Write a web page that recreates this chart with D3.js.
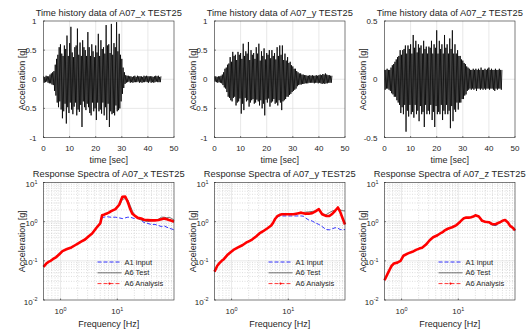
<!DOCTYPE html>
<html>
<head>
<meta charset="utf-8">
<script src="https://cdn.jsdelivr.net/npm/d3@7"></script>
<style>
  body { margin: 0; background: #fff; }
  text { font-family: "Liberation Sans", Arial, sans-serif; fill: #262626; }
</style>
</head>
<body>
<div id="container"></div>
<script>

// ---- time histories: peak sequence, one value per 0.25 s (0..45 s)
const timeStep = 0.25;
const accX = [0.05,-0.06,0.04,-0.05,0.06,-0.04,0.05,-0.06,0.05,
  -0.07,0.08,-0.07,0.10,-0.09,0.12,-0.10,0.14,
  -0.20,0.25,-0.28,0.35, -0.40,0.42,-0.48,0.55, -0.38,0.60,-0.52,0.44, -0.67,0.40,-0.55,0.58,
  -0.42,0.52,-0.76,0.75, -0.48,0.40,-0.58,0.62, -0.40,0.90,-0.52,0.46, -0.60,0.38,-0.47,0.55,
  -0.40,0.58,-0.62,0.87, -0.52,0.42,-0.56,0.63, -0.44,0.40,-0.82,0.67, -0.38,0.55,-0.48,0.50,
  -0.53,0.40,-0.42,0.81, -0.48,0.55,-0.58,0.40, -0.62,0.60,-0.40,0.48, -0.55,0.38,-0.50,0.58,
  -0.70,0.46,-0.40,0.78, -0.55,0.40,-0.52,0.67, -0.59,0.52,-0.40,0.55, -0.62,0.44,-0.48,0.93,
  -0.70,0.58,-0.42,0.60, -0.82,0.45,-0.55,0.95, -0.60,0.42,-0.58,0.62, -0.62,0.55,-0.45,0.98,
  -0.55,0.48,-0.53,0.78, -0.50,0.42,-0.38,0.35, -0.25,0.20,-0.15,0.12, -0.08,0.07,-0.06,0.06,
  -0.05,0.06,-0.04,0.05,-0.06,0.05,-0.05,0.04,-0.06,0.05,
  -0.05,0.06,-0.05,0.04,-0.05,0.06,-0.04,0.05,-0.06,0.05,
  -0.05,0.05,-0.06,0.04,-0.05,0.06,-0.05,0.05,-0.04,0.06,
  -0.05,0.05,-0.06,0.05,-0.04,0.05,-0.06,0.05,-0.05,0.04,
  -0.06,0.05,-0.05,0.06,-0.04,0.05,-0.05,0.06,-0.05,0.04,
  -0.05,0.05];
const accY = [0.05,-0.04,0.05,-0.05,0.04,-0.06,0.05,-0.05,0.05,
  -0.06,0.06,-0.07,0.08,-0.10,0.12,-0.14,0.18,
  -0.16,0.20,-0.22,0.25, -0.30,0.27,-0.32,0.38, -0.36,0.30,-0.38,0.47, -0.32,0.40,-0.30,0.42,
  -0.45,0.33,-0.40,0.47, -0.38,0.42,-0.33,0.45, -0.59,0.35,-0.42,0.61, -0.53,0.40,-0.32,0.48,
  -0.38,0.44,-0.36,0.64, -0.47,0.33,-0.40,0.50, -0.36,0.42,-0.34,0.45, -0.42,0.35,-0.40,0.55,
  -0.35,0.44,-0.38,0.61, -0.45,0.32,-0.36,0.48, -0.50,0.40,-0.42,0.53, -0.62,0.34,-0.35,0.45,
  -0.40,0.42,-0.33,0.50, -0.47,0.36,-0.40,0.50, -0.38,0.40,-0.34,0.45, -0.42,0.34,-0.40,0.55,
  -0.45,0.40,-0.36,0.58, -0.40,0.42,-0.53,0.58, -0.38,0.33,-0.36,0.44, -0.34,0.32,-0.30,0.38,
  -0.30,0.28,-0.27,0.30, -0.25,0.24,-0.22,0.22, -0.20,0.18,-0.18,0.18, -0.16,0.14,-0.12,0.12,
  -0.10,0.10,-0.09,0.10,-0.09,0.08,-0.08,0.08,-0.08,0.07,
  -0.07,0.07,-0.07,0.06,-0.07,0.06,-0.06,0.07,-0.06,0.06,
  -0.06,0.07,-0.06,0.06,-0.07,0.06,-0.06,0.07,-0.06,0.06,
  -0.07,0.07,-0.06,0.08,-0.07,0.07,-0.08,0.09,-0.07,0.08,
  -0.08,0.10,-0.07,0.08,-0.07,0.07,-0.06,0.07,-0.06,0.06,
  -0.06,0.06];
const accZ = [0.08,-0.09,0.08,-0.08,0.09,-0.08,0.08,-0.09,0.08,
  -0.10,0.10,-0.12,0.12,-0.13,0.13,-0.15,0.15,
  -0.15,0.17,-0.18,0.19, -0.20,0.20,-0.22,0.25, -0.29,0.21,-0.24,0.25, -0.30,0.26,-0.22,0.29,
  -0.45,0.22,-0.27,0.29, -0.32,0.26,-0.22,0.30, -0.30,0.22,-0.28,0.38, -0.33,0.27,-0.22,0.33,
  -0.30,0.23,-0.27,0.30, -0.36,0.27,-0.23,0.29, -0.30,0.22,-0.28,0.33, -0.41,0.26,-0.22,0.28,
  -0.30,0.22,-0.27,0.28, -0.30,0.27,-0.22,0.33, -0.35,0.22,-0.28,0.30, -0.41,0.27,-0.23,0.42,
  -0.30,0.22,-0.28,0.33, -0.30,0.26,-0.22,0.30, -0.35,0.22,-0.27,0.38, -0.30,0.27,-0.22,0.30,
  -0.30,0.22,-0.27,0.35, -0.42,0.26,-0.23,0.42, -0.36,0.22,-0.26,0.30, -0.28,0.22,-0.20,0.25,
  -0.26,0.20,-0.20,0.20, -0.20,0.17,-0.17,0.16, -0.17,0.14,-0.14,0.13, -0.13,0.11,-0.10,0.10,
  -0.09,0.09,-0.08,0.08,-0.09,0.08,-0.08,0.09,-0.09,0.08,
  -0.08,0.09,-0.10,0.08,-0.08,0.09,-0.08,0.08,-0.09,0.10,
  -0.08,0.08,-0.09,0.08,-0.08,0.09,-0.09,0.08,-0.08,0.09,
  -0.08,0.10,-0.09,0.08,-0.08,0.09,-0.08,0.08,-0.09,0.08,
  -0.10,0.09,-0.08,0.08,-0.09,0.08,-0.08,0.09,-0.08,0.08,
  -0.09,0.08];

// ---- response spectra [g] at these frequencies [Hz]
const freqHz = [0.5,0.56,0.61,0.67,0.73,0.84,0.96,1.08,1.3,1.55,1.8,2.05,2.3,2.7,3.1,3.6,4.3,5,5.4,5.8,
  6.4,7.1,7.8,9.3,10.8,12.3,13.8,15.3,16.9,18.4,20,23,26.4,29.6,34.6,39.6,46,53,60,67,75,82,91,100];

const inputX = [0.07,0.085,0.094,0.10,0.11,0.125,0.15,0.177,0.20,0.22,0.25,0.28,0.31,0.35,0.42,0.50,0.68,0.85,1.25,1.30,
  1.35,1.32,1.30,1.30,1.25,1.20,1.25,1.30,1.30,1.25,1.20,1.25,1.10,0.95,0.90,0.85,0.85,0.80,0.75,0.78,0.72,0.68,0.65,0.62];
const testX = [0.07,0.085,0.094,0.10,0.11,0.125,0.15,0.177,0.20,0.22,0.25,0.28,0.31,0.35,0.42,0.50,0.70,0.90,1.45,1.50,
  1.60,1.70,1.85,2.10,2.50,3.70,3.90,3.60,2.60,1.90,1.50,1.20,1.10,1.05,1.00,1.05,1.10,1.15,1.30,1.30,1.25,1.30,1.20,1.10];
const anaX = [0.07,0.085,0.094,0.10,0.11,0.125,0.15,0.177,0.20,0.22,0.25,0.28,0.31,0.35,0.42,0.50,0.70,0.90,1.45,1.50,
  1.60,1.70,1.85,2.10,2.70,4.30,4.40,3.20,2.10,1.60,1.45,1.25,1.20,1.12,1.10,1.08,1.08,1.10,1.15,1.20,1.15,1.10,1.05,1.00];

const inputY = [0.053,0.075,0.087,0.10,0.11,0.14,0.165,0.19,0.22,0.25,0.29,0.32,0.35,0.42,0.50,0.57,0.68,0.80,0.92,1.10,
  1.30,1.40,1.40,1.40,1.40,1.40,1.40,1.40,1.40,1.38,1.25,1.10,1.04,0.94,0.85,0.75,0.63,0.62,0.66,0.70,0.68,0.63,0.62,0.63];
const testY = [0.053,0.075,0.087,0.10,0.11,0.14,0.165,0.19,0.22,0.25,0.29,0.32,0.35,0.42,0.50,0.57,0.68,0.80,0.92,1.15,
  1.38,1.50,1.55,1.55,1.55,1.55,1.60,1.65,1.70,1.72,1.75,1.78,1.82,1.88,2.00,1.60,1.50,1.70,1.88,1.95,2.10,2.00,1.90,1.88];
const anaY = [0.053,0.075,0.087,0.10,0.11,0.14,0.165,0.19,0.22,0.25,0.29,0.32,0.35,0.42,0.50,0.57,0.68,0.80,0.94,1.15,
  1.38,1.50,1.55,1.55,1.55,1.55,1.60,1.65,1.70,1.65,1.60,1.60,1.65,1.80,2.08,1.55,1.40,1.40,1.60,1.90,2.30,1.80,1.20,0.85];

const inputZ = [0.032,0.045,0.058,0.075,0.085,0.09,0.10,0.135,0.155,0.17,0.19,0.205,0.215,0.26,0.33,0.40,0.45,0.52,0.55,0.60,
  0.65,0.69,0.72,0.82,1.00,1.20,1.27,1.27,1.30,1.35,1.45,1.35,1.05,1.00,0.95,0.82,0.80,0.95,1.05,1.10,0.95,0.78,0.70,0.60];
const testZ = inputZ.slice();
const anaZ = [0.032,0.045,0.058,0.075,0.085,0.09,0.10,0.135,0.155,0.17,0.19,0.205,0.215,0.26,0.33,0.40,0.45,0.52,0.55,0.60,
  0.65,0.69,0.72,0.82,1.00,1.20,1.27,1.27,1.30,1.35,1.45,1.35,1.05,1.00,0.97,0.86,0.87,0.95,1.05,1.10,0.95,0.78,0.70,0.60];

const axesNames = ['x', 'y', 'z'];
const timeLimits = [1, 1, 0.5];
const timeTicks = [[-1, -0.5, 0, 0.5, 1], [-1, -0.5, 0, 0.5, 1], [-0.5, 0, 0.5]];
const timeXTicks = [0, 10, 20, 30, 40, 50];
const freqRange = [0.5, 100];
const legendNames = ['A1 input', 'A6 Test', 'A6 Analysis'];

const W = 532, H = 333;
const colLeft = [43.5, 214.5, 384.5];
const plotW = 130.5;
const rowTop = [21, 182.5];
const rowH = [116.5, 117.5];
const gridCol = '#dedede';
const boxCol = '#262626';

const svg = d3.select('#container').append('svg')
  .attr('width', W).attr('height', H)
  .style('background', '#fff');

function frame(g, w, h) {
  g.append('rect').attr('width', w).attr('height', h)
    .attr('fill', 'none').attr('stroke', boxCol).attr('stroke-width', 0.6);
}

function drawTime(col, data, lim, yt) {
  const g = svg.append('g').attr('transform', `translate(${colLeft[col]},${rowTop[0]})`);
  const h = rowH[0];
  const x = d3.scaleLinear().domain([0, 50]).range([0, plotW]);
  const y = d3.scaleLinear().domain([-lim, lim]).range([h, 0]);

  // grid
  g.selectAll('.gx').data(timeXTicks.slice(1, -1)).enter().append('line')
    .attr('x1', d => x(d)).attr('x2', d => x(d)).attr('y1', 0).attr('y2', h)
    .attr('stroke', gridCol).attr('stroke-width', 0.7);
  g.selectAll('.gy').data(yt.slice(1, -1)).enter().append('line')
    .attr('y1', d => y(d)).attr('y2', d => y(d)).attr('x1', 0).attr('x2', plotW)
    .attr('stroke', gridCol).attr('stroke-width', 0.7);

  const line = d3.line().x((d, i) => x(i * timeStep)).y(d => y(d));
  g.append('path').datum(data).attr('d', line)
    .attr('fill', 'none').attr('stroke', '#000').attr('stroke-width', 0.8);

  frame(g, plotW, h);
  // ticks
  g.selectAll('.tx').data(timeXTicks).enter().append('line')
    .attr('x1', d => x(d)).attr('x2', d => x(d)).attr('y1', h).attr('y2', h - 1.5)
    .attr('stroke', boxCol).attr('stroke-width', 0.6);
  g.selectAll('.ty').data(yt).enter().append('line')
    .attr('y1', d => y(d)).attr('y2', d => y(d)).attr('x1', 0).attr('x2', 1.5)
    .attr('stroke', boxCol).attr('stroke-width', 0.6);

  g.selectAll('.lx').data(timeXTicks).enter().append('text')
    .attr('x', d => x(d)).attr('y', h + 13).attr('text-anchor', 'middle')
    .attr('font-size', 8).text(d => d);
  g.selectAll('.ly').data(yt).enter().append('text')
    .attr('x', -7).attr('y', d => y(d) + 3).attr('text-anchor', 'end')
    .attr('font-size', 8).text(d => d);

  g.append('text').attr('x', plotW / 2).attr('y', h + 25.5).attr('text-anchor', 'middle')
    .attr('font-size', 9).text('time [sec]');
  g.append('text').attr('transform', `translate(-19,${h / 2}) rotate(-90)`)
    .attr('text-anchor', 'middle').attr('font-size', 9).text('Acceleration [g]');
  g.append('text').attr('x', plotW / 2).attr('y', -5).attr('text-anchor', 'middle')
    .attr('font-size', 9.3).attr('fill', '#000')
    .text(`Time history data of A07_${axesNames[col]} TEST25`);
}

function powLabel(sel) {
  sel.each(function (d) {
    const t = d3.select(this);
    t.append('tspan').text('10');
    t.append('tspan').attr('dy', -3.3).attr('font-size', 5.4).text(d);
  });
}

function drawSpec(col, inp, test, ana) {
  const g = svg.append('g').attr('transform', `translate(${colLeft[col]},${rowTop[1]})`);
  const h = rowH[1];
  const x = d3.scaleLog().domain(freqRange).range([0, plotW]);
  const y = d3.scaleLog().domain([0.01, 10]).range([h, 0]);

  const minorX = [0.6, 0.7, 0.8, 0.9, 2, 3, 4, 5, 6, 7, 8, 9, 20, 30, 40, 50, 60, 70, 80, 90];
  const minorY = [];
  [0.01, 0.1, 1].forEach(b => { for (let k = 2; k <= 9; k++) minorY.push(b * k); });

  g.selectAll('.mgx').data(minorX).enter().append('line')
    .attr('x1', d => x(d)).attr('x2', d => x(d)).attr('y1', 0).attr('y2', h)
    .attr('stroke', '#bdbdbd').attr('stroke-width', 0.5).attr('stroke-dasharray', '1,1.5');
  g.selectAll('.mgy').data(minorY).enter().append('line')
    .attr('y1', d => y(d)).attr('y2', d => y(d)).attr('x1', 0).attr('x2', plotW)
    .attr('stroke', '#bdbdbd').attr('stroke-width', 0.5).attr('stroke-dasharray', '1,1.5');
  g.selectAll('.gx').data([1, 10]).enter().append('line')
    .attr('x1', d => x(d)).attr('x2', d => x(d)).attr('y1', 0).attr('y2', h)
    .attr('stroke', gridCol).attr('stroke-width', 0.7);
  g.selectAll('.gy').data([0.1, 1]).enter().append('line')
    .attr('y1', d => y(d)).attr('y2', d => y(d)).attr('x1', 0).attr('x2', plotW)
    .attr('stroke', gridCol).attr('stroke-width', 0.7);

  const line = d3.line().x((d, i) => x(freqHz[i])).y(d => y(d));
  g.append('path').datum(inp).attr('d', line).attr('fill', 'none')
    .attr('stroke', '#0000ff').attr('stroke-width', 0.8).attr('stroke-dasharray', '4,2');
  g.append('path').datum(test).attr('d', line).attr('fill', 'none')
    .attr('stroke', '#4d4d4d').attr('stroke-width', 0.8);
  g.append('path').datum(ana).attr('d', line).attr('fill', 'none')
    .attr('stroke', '#ff0000').attr('stroke-width', 2.6).attr('stroke-linejoin', 'round');

  frame(g, plotW, h);
  g.selectAll('.tx').data([1, 10]).enter().append('line')
    .attr('x1', d => x(d)).attr('x2', d => x(d)).attr('y1', h).attr('y2', h - 1.5)
    .attr('stroke', boxCol).attr('stroke-width', 0.6);
  g.selectAll('.ty').data([0.01, 0.1, 1, 10]).enter().append('line')
    .attr('y1', d => y(d)).attr('y2', d => y(d)).attr('x1', 0).attr('x2', 1.5)
    .attr('stroke', boxCol).attr('stroke-width', 0.6);

  g.selectAll('.lx').data([0, 1]).enter().append('text')
    .attr('x', d => x(Math.pow(10, d))).attr('y', h + 14).attr('text-anchor', 'middle')
    .attr('font-size', 8).call(powLabel);
  g.selectAll('.ly').data([-2, -1, 0, 1]).enter().append('text')
    .attr('x', -6).attr('y', d => y(Math.pow(10, d)) + 4.5).attr('text-anchor', 'end')
    .attr('font-size', 8).call(powLabel);

  g.append('text').attr('x', plotW / 2).attr('y', h + 27).attr('text-anchor', 'middle')
    .attr('font-size', 9).text('Frequency [Hz]');
  g.append('text').attr('transform', `translate(-19,${h / 2}) rotate(-90)`)
    .attr('text-anchor', 'middle').attr('font-size', 9).text('Acceleration [g]');
  g.append('text').attr('x', plotW / 2).attr('y', -6).attr('text-anchor', 'middle')
    .attr('font-size', 9.3).attr('fill', '#000')
    .text(`Response Spectra of A07_${axesNames[col]} TEST25`);

  // legend
  const styles = [
    { c: '#0000ff', dash: '4,2' },
    { c: '#4d4d4d', dash: null },
    { c: '#ff0000', dash: '4,2' }];
  const lg = g.selectAll('.leg').data(legendNames).enter().append('g')
    .attr('transform', (d, i) => `translate(54,${79.5 + i * 10.8})`);
  lg.append('line').attr('x1', 0).attr('x2', 24).attr('y1', 0).attr('y2', 0)
    .attr('stroke', (d, i) => styles[i].c).attr('stroke-width', 0.8)
    .attr('stroke-dasharray', (d, i) => styles[i].dash);
  lg.filter((d, i) => i === 2).append('circle').attr('cx', 12).attr('cy', 0).attr('r', 1.1)
    .attr('fill', '#ff0000');
  lg.append('text').attr('x', 27).attr('y', 2.6).attr('font-size', 7.5).text(d => d);
}

drawTime(0, accX, timeLimits[0], timeTicks[0]);
drawTime(1, accY, timeLimits[1], timeTicks[1]);
drawTime(2, accZ, timeLimits[2], timeTicks[2]);
drawSpec(0, inputX, testX, anaX);
drawSpec(1, inputY, testY, anaY);
drawSpec(2, inputZ, testZ, anaZ);

</script>
</body>
</html>
